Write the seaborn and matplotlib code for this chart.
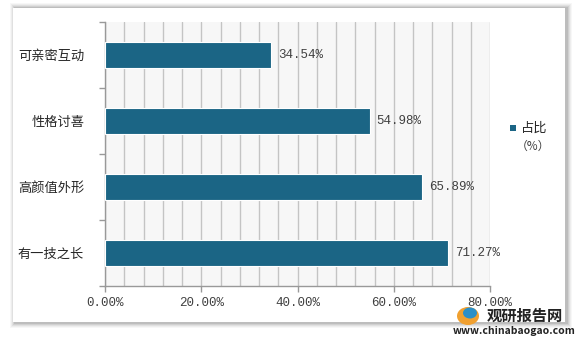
import matplotlib
matplotlib.use("Agg")
import matplotlib.pyplot as plt
import seaborn as sns
import pandas as pd
import numpy as np
from matplotlib.patches import Rectangle
from matplotlib.ticker import MultipleLocator, FuncFormatter

categories = ["可亲密互动", "性格讨喜", "高颜值外形", "有一技之长"]
values = [34.54, 54.98, 65.89, 71.27]
series_name = "占比"
unit_label = "（%）"
xticks = [0, 20, 40, 60, 80]

sns.set_theme(style="white")
plt.rcParams['font.family'] = ['Noto Sans CJK SC', 'DejaVu Sans']
NUMFONT = ["Liberation Mono", "DejaVu Sans Mono"]

df = pd.DataFrame({"cat": categories, "val": values})

W, H = 578, 339
fig = plt.figure(figsize=(W / 100, H / 100), dpi=100)
fig.patch.set_facecolor("white")

# card with soft shadow
for i, a in enumerate([0.03, 0.04, 0.05, 0.07, 0.09]):
    off = (5 - i) * 1.0
    fig.patches.append(Rectangle(((13 - off + 2) / W, (339 - 323 - off) / H),
                                 (552 + 2 * off) / W, (315 + 2 * off) / H,
                                 transform=fig.transFigure, facecolor="#000000",
                                 alpha=a, edgecolor="none", zorder=0))
fig.patches.append(Rectangle((13 / W, (339 - 322) / H), 552 / W, 314 / H,
                             transform=fig.transFigure, facecolor="white",
                             edgecolor="none", zorder=1))

ax = fig.add_axes([105 / W, 1 - 286 / H, 385 / W, 264 / H])
ax.set_zorder(2)
ax.set_facecolor("#f7f7f7")

sns.barplot(data=df, x="val", y="cat", orient="h", color="#1b6585",
            saturation=1, width=0.38, edgecolor="white", linewidth=0.8,
            ax=ax, zorder=3)

ax.set_xlim(0, 80)
ax.set_ylim(3.5, -0.5)
ax.xaxis.set_major_locator(matplotlib.ticker.FixedLocator(xticks))
ax.xaxis.set_minor_locator(MultipleLocator(4))
ax.xaxis.set_major_formatter(FuncFormatter(lambda v, p: f"{v:.2f}%"))
ax.grid(True, axis="x", which="both", color="#c4c4c4", linewidth=1.0, zorder=1)
ax.set_axisbelow(True)

ax.set_xlabel("")
ax.set_ylabel("")
for s in ["top", "right"]:
    ax.spines[s].set_visible(False)
for s in ["left", "bottom"]:
    ax.spines[s].set_color("#999999")
    ax.spines[s].set_linewidth(1.0)

ax.tick_params(axis="x", which="major", bottom=True, length=4, width=1,
               color="#999999", labelsize=9, labelcolor="#404040", pad=4)
ax.tick_params(axis="x", which="minor", bottom=False)
ax.tick_params(axis="y", which="major", left=False, labelsize=9.5,
               labelcolor="#262626", pad=9)
ax.yaxis.set_minor_locator(matplotlib.ticker.FixedLocator([-0.5, 0.5, 1.5, 2.5, 3.5]))
ax.tick_params(axis="y", which="minor", left=True, length=4, width=1, color="#999999")

for lbl in ax.get_xticklabels():
    lbl.set_fontfamily(NUMFONT)

for i, v in enumerate(values):
    ax.text(v + 1.4, i, f"{v:.2f}%", va="center", ha="left", fontsize=9,
            color="#404040", family=NUMFONT, zorder=5)

# legend
fig.patches.append(Rectangle((510 / W, 1 - 131 / H), 6 / W, 6 / H,
                             transform=fig.transFigure, facecolor="#1b6585",
                             edgecolor="none", zorder=3))
fig.text(521 / W, 1 - 128 / H, series_name, fontsize=9.5, va="center",
         ha="left", color="#262626", zorder=3)
fig.text(550 / W, 1 - 146 / H, unit_label, fontsize=8.5, va="center",
         ha="right", color="#404040", zorder=3)

# watermark
fig.text(487 / W, 1 - 316 / H, "观研报告网", fontsize=11, fontweight="bold",
         va="center", ha="left", color="#222222", zorder=4)
fig.text(453 / W, 1 - 331 / H, "www.chinabaogao.com", fontsize=7.5,
         fontweight="bold", va="center", ha="left", color="#222222", zorder=4)
fig.patches.append(matplotlib.patches.Ellipse((468 / W, 1 - 316 / H), 22 / W, 18 / H,
                   transform=fig.transFigure, facecolor="#f0a030",
                   edgecolor="none", zorder=4))
fig.patches.append(matplotlib.patches.Ellipse((470 / W, 1 - 313 / H), 14 / W, 11 / H,
                   transform=fig.transFigure, facecolor="#2a8fc8",
                   edgecolor="none", zorder=4))

fig.savefig("out.png", dpi=100, facecolor="white")
